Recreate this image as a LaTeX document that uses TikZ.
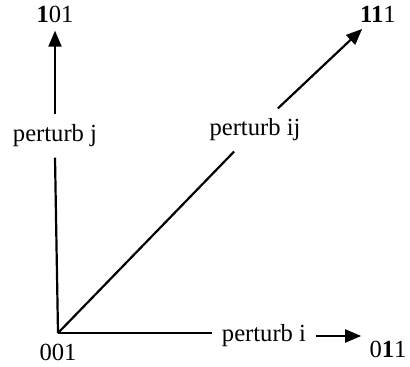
\documentclass[tikz,border=0pt]{standalone}
\usepackage{fontspec}
\setmainfont{Liberation Serif}
\usepackage{tikz}
\usetikzlibrary{arrows.meta,positioning,calc}

\begin{document}
\begin{tikzpicture}[x=0.5pt,y=-0.5pt, every node/.style={font=\fontsize{12.3}{14}\selectfont,inner sep=1.5pt},
  lbl/.style={inner sep=5pt},
  edge/.style={line width=1.1pt}, tip/.style={edge,-{Triangle[length=8pt,width=6.5pt]},shorten >=2.5pt}]
\useasboundingbox (0,0) rectangle (410,367);
\coordinate (o) at (58,333);
\node (n001) at (58,352) {001};
\node (n101) at (55,14) {\textbf{1}01};
\node (n111) at (378,14) {\textbf{11}1};
\node (n011) at (388,349) {0\textbf{1}1};
\node[lbl] (pj) at (55,136) {perturb j};
\node[lbl] (pij) at (255,130) {perturb ij};
\node[lbl] (pi) at (264,336) {perturb i};
\draw[edge] (o) -- (pj.south); \draw[tip] (pj.north) -- (n101.south);
\draw[edge] (o) -- (pij); \draw[tip] (pij) -- (n111);
\draw[edge] (o) -- (o -| pi.west); \draw[tip] (pi.east) -- (pi.east -| n011.west);
\end{tikzpicture}
\end{document}
